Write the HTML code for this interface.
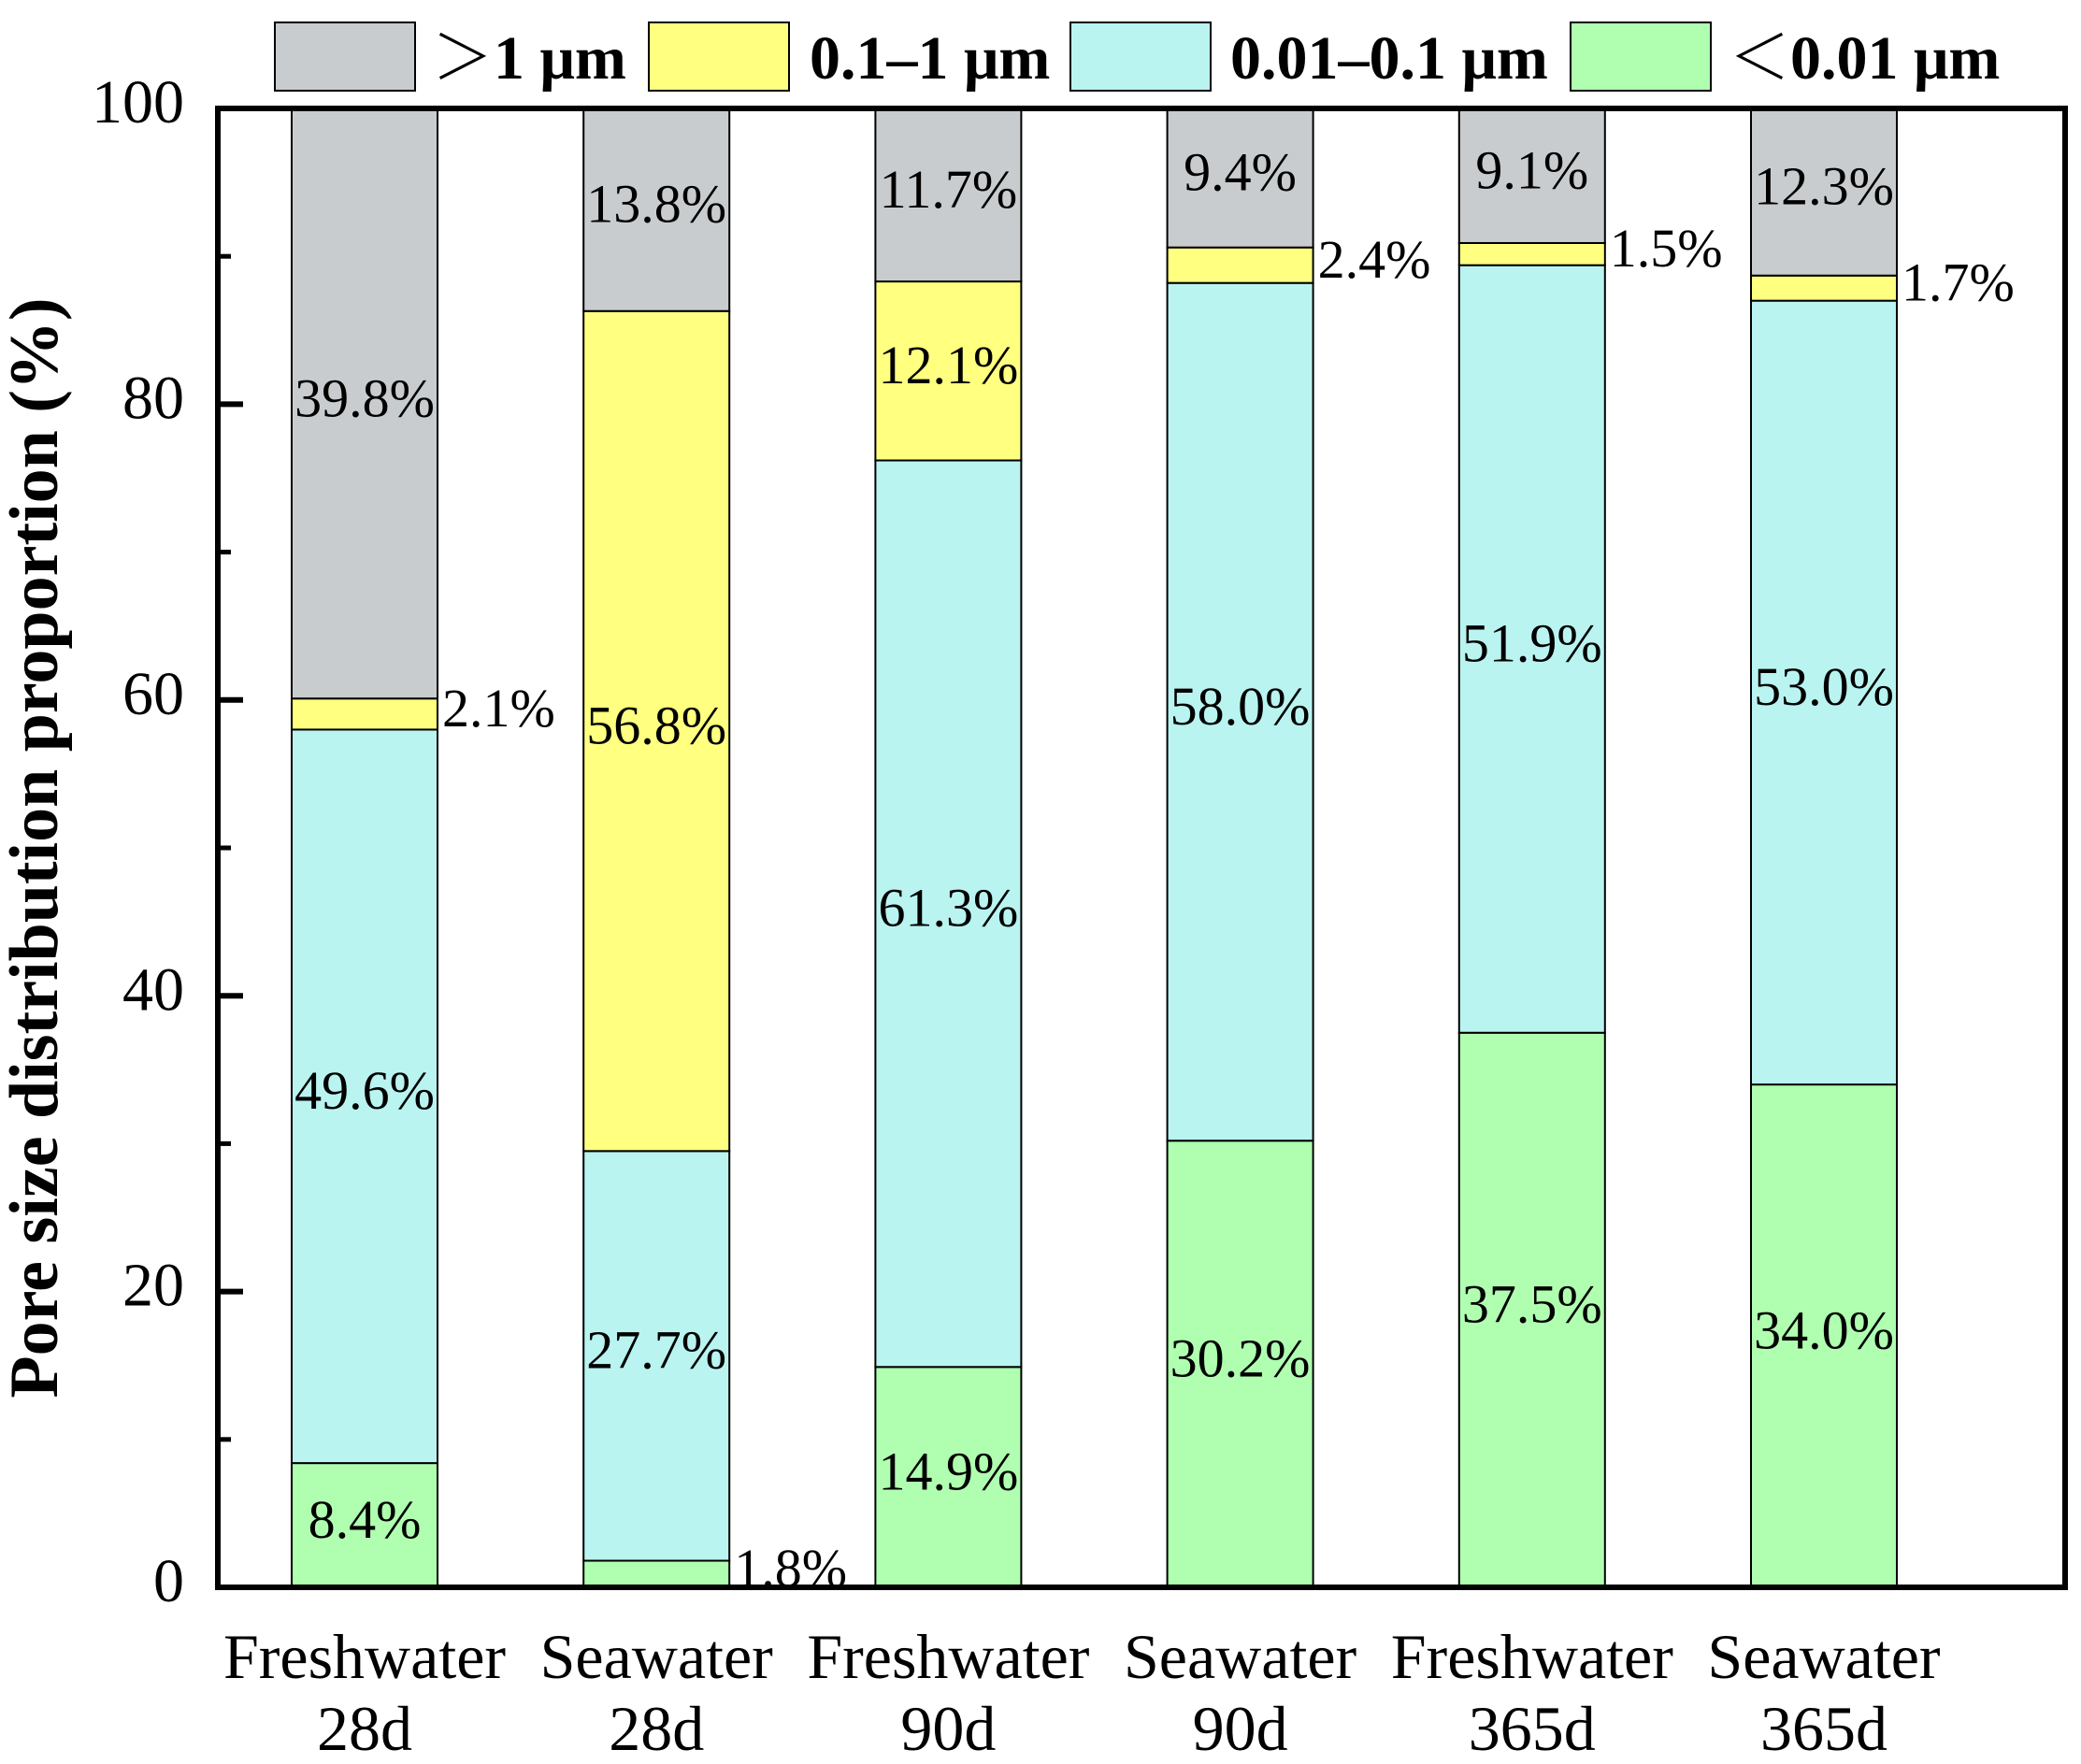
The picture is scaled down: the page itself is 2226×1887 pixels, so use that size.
<!DOCTYPE html>
<html><head><meta charset="utf-8"><style>
html,body{margin:0;padding:0;background:#fff}
svg{display:block}
text{font-family:"Liberation Serif","Noto Serif CJK SC",serif;fill:#000}
</style></head><body>
<svg id="chart" width="2226" height="1887" viewBox="0 0 2226 1887" xmlns="http://www.w3.org/2000/svg">
<g id="marks"></g>
<g id="axes"></g>
<g id="legend"></g>
<text transform="translate(44,907) rotate(-90)" text-anchor="middle" font-size="74" font-weight="bold" dominant-baseline="middle">Pore size distribution proportion (%)</text>
</svg>
<script>
const catLine1 = ["Freshwater","Seawater","Freshwater","Seawater","Freshwater","Seawater"];
const catLine2 = ["28d","28d","90d","90d","365d","365d"];
const seriesNames = ["<0.01 μm","0.01–0.1 μm","0.1–1 μm",">1 μm"];
const lt001 = [8.4, 1.8, 14.9, 30.2, 37.5, 34.0];
const s001to01 = [49.6, 27.7, 61.3, 58.0, 51.9, 53.0];
const s01to1 = [2.1, 56.8, 12.1, 2.4, 1.5, 1.7];
const gt1 = [39.8, 13.8, 11.7, 9.4, 9.1, 12.3];
const yTicks = [0,20,40,60,80,100];

const NS="http://www.w3.org/2000/svg";
const X0=233, X1=2209, YT=116, YB=1698;
const colors=["#b0ffb0","#b9f4f1","#ffff80","#c9ccce"];
const series=[lt001,s001to01,s01to1,gt1];
const yS=v=>YB-(v/100)*(YB-YT);
const barW=156, step=312.2, c0=390;
const xC=i=>c0+i*step;
function mk(tag,attrs,parent){const e=document.createElementNS(NS,tag);for(const k in attrs)e.setAttribute(k,attrs[k]);parent.appendChild(e);return e;}
const marks=document.getElementById('marks');
const axes=document.getElementById('axes');
const legend=document.getElementById('legend');
catLine1.forEach((c,i)=>{
  let base=0;
  series.forEach((s,j)=>{
    const v=s[i];
    const top=Math.min(100,base+v);
    const r=mk('rect',{x:xC(i)-barW/2,y:yS(top),width:barW,height:yS(base)-yS(top),fill:colors[j],stroke:'#000','stroke-width':2},marks);
    
    
    const mid=(base+top)/2;
    const small=v<5;
    const t=mk('text',{x:small?xC(i)+barW/2+5:xC(i),y:yS(mid),'font-size':58,'text-anchor':small?'start':'middle','dominant-baseline':'middle'},marks);
    t.textContent=v.toFixed(1)+'%';
    
    
    base=top;
  });
  const l1=mk('text',{x:xC(i),y:1795,'font-size':68,'text-anchor':'middle'},axes);
  l1.textContent=c;
  
  
  const l2=mk('text',{x:xC(i),y:1872,'font-size':68,'text-anchor':'middle'},axes);
  l2.textContent=catLine2[i];
  
  
});
const frame=mk('rect',{x:X0,y:YT,width:X1-X0,height:YB-YT,fill:'none',stroke:'#000','stroke-width':6},axes);


yTicks.forEach((v,k)=>{
  const tk=mk('line',{x1:X0,x2:X0+27,y1:yS(v),y2:yS(v),stroke:'#000','stroke-width':6},axes);
  
  
  const t=mk('text',{x:197,y:yS(v),'font-size':66,'text-anchor':'end','dominant-baseline':'middle'},axes);
  t.textContent=v;
  
  
  if(k<yTicks.length-1){
    const mv=(v+yTicks[k+1])/2;
    const m=mk('line',{x1:X0,x2:X0+14,y1:yS(mv),y2:yS(mv),stroke:'#000','stroke-width':5},axes);
    
    
  }
});
const legItems=[
  {box:294,tx:462,label:"＞1 μm",c:3},
  {box:694,tx:866,label:"0.1–1 μm",c:2},
  {box:1145,tx:1316,label:"0.01–0.1 μm",c:1},
  {box:1680,tx:1849,label:"＜0.01 μm",c:0}];
legItems.forEach(it=>{
  const r=mk('rect',{x:it.box,y:24,width:150,height:73,fill:colors[it.c],stroke:'#000','stroke-width':2},legend);
  
  
  const t=mk('text',{x:it.tx,y:84,'font-size':66,'font-weight':'bold'},legend);
  t.textContent=it.label;
  
  
});
</script>
</body></html>
